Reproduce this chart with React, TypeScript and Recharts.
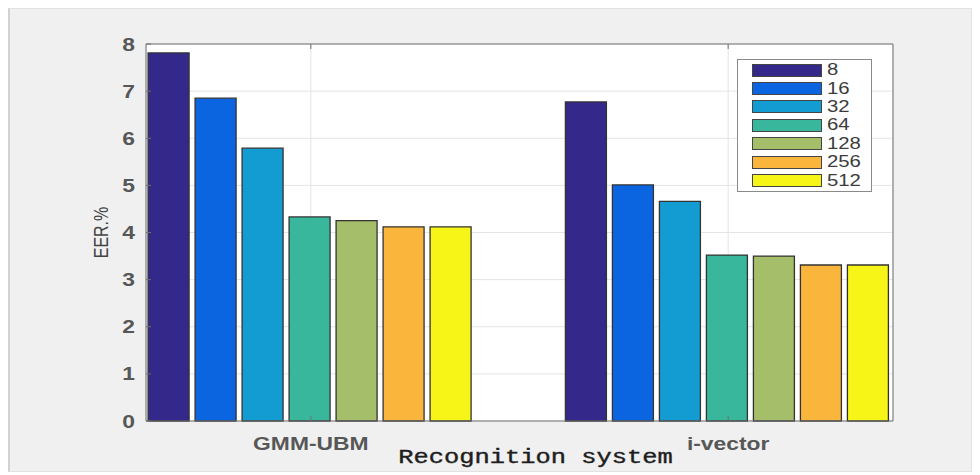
import React from 'react';
import { BarChart, Bar, XAxis, YAxis, CartesianGrid, Legend } from 'recharts';

const systems = ['GMM-UBM', 'i-vector'];
const systemPositions = [1, 2];
const mixtures = ['8', '16', '32', '64', '128', '256', '512'];
const gmmUbmEER = [7.81, 6.85, 5.79, 4.33, 4.25, 4.12, 4.12];
const iVectorEER = [6.77, 5.01, 4.66, 3.52, 3.5, 3.31, 3.31];
const seriesColors = ['#34298a', '#0b65e0', '#139cd2', '#38b79d', '#a5be6a', '#f9b53c', '#f6f517'];
const yTicks = [0, 1, 2, 3, 4, 5, 6, 7, 8];
const xAxisTitle = 'Recognition system';
const yAxisTitle = 'EER.%';

const eerRows = [gmmUbmEER, iVectorEER];
const data = systems.map((name, i) => {
  const row: any = { name, pos: systemPositions[i] };
  mixtures.forEach((m, j) => {
    row['m' + m] = eerRows[i][j];
  });
  return row;
});

const SX = 1.27;
const SANS = '"Liberation Sans", Arial, Helvetica, sans-serif';
const MONO = '"Liberation Mono", "Courier New", monospace';
const TICK_COLOR = '#575757';
const AXIS_COLOR = '#707070';

const XTick = (props: any) => {
  const { x, y, payload } = props;
  const idx = systemPositions.indexOf(payload.value);
  return (
    <g transform={`translate(${x},${y}) scale(${SX},1)`}>
      <text x={0} y={0} textAnchor="middle" dominantBaseline="central" fontFamily={SANS} fontSize={18} fontWeight="bold" fill={TICK_COLOR}>
        {idx >= 0 ? systems[idx] : ''}
      </text>
    </g>
  );
};

const YTick = (props: any) => {
  const { x, y, payload } = props;
  return (
    <g transform={`translate(${x},${y}) scale(${SX},1)`}>
      <text x={0} y={0} textAnchor="end" dominantBaseline="central" fontFamily={SANS} fontSize={18} fontWeight="bold" fill={TICK_COLOR}>
        {payload.value}
      </text>
    </g>
  );
};

const NoTick = () => <g />;

const XLabel = (props: any) => {
  const vb = props.viewBox || { x: 146, y: 421, width: 747, height: 54 };
  const cx = vb.x + vb.width / 2 + 16;
  return (
    <g transform={`translate(${cx},${vb.y + 42}) scale(${SX},1)`}>
      <text x={0} y={0} textAnchor="middle" fontFamily={MONO} fontSize={20} fill="#1e1e1e" stroke="#1e1e1e" strokeWidth={0.4}>
        {xAxisTitle}
      </text>
    </g>
  );
};

const YLabel = (props: any) => {
  const vb = props.viewBox || { x: 0, y: 44, width: 146, height: 377 };
  const cy = vb.y + vb.height / 2;
  return (
    <g transform={`translate(${vb.x + 101},${cy}) scale(${SX},1) rotate(-90)`}>
      <text x={0} y={0} textAnchor="middle" dominantBaseline="central" fontFamily={SANS} fontSize={16} fill="#444">
        {yAxisTitle}
      </text>
    </g>
  );
};

const renderLegend = () => (
  <div
    style={{
      width: 135,
      height: 133,
      border: '1px solid #8a8a8a',
      background: '#fff',
      boxSizing: 'border-box',
      paddingTop: 1,
    }}
  >
    {mixtures.map((m, j) => (
      <div key={m} style={{ height: 18.4, display: 'flex', alignItems: 'center' }}>
        <div
          style={{
            marginLeft: 14,
            width: 70,
            height: 13,
            background: seriesColors[j],
            border: '1px solid #444',
            boxSizing: 'border-box',
          }}
        />
        <span
          style={{
            marginLeft: 5,
            fontFamily: SANS,
            fontSize: 16,
            color: '#3c3c3c',
            display: 'inline-block',
            transform: `scaleX(${SX})`,
            transformOrigin: 'left center',
            lineHeight: '16px',
          }}
        >
          {m}
        </span>
      </div>
    ))}
  </div>
);

export default function App() {
  return (
    <div style={{ position: 'absolute', left: 0, top: 0, width: 980, height: 475, background: '#fff', overflow: 'hidden' }}>
      <div
        style={{
          position: 'absolute',
          left: 8,
          top: 8,
          width: 964,
          height: 464,
          background: '#f0f0f0',
          borderLeft: '2px solid #d2d2d2',
          borderTop: '1px solid #e2e2e2',
          borderRight: '1px solid #e2e2e2',
          borderBottom: '1px solid #e2e2e2',
          boxSizing: 'border-box',
        }}
      />
      <div style={{ position: 'absolute', left: 0, top: 0 }}>
        <BarChart
          width={980}
          height={475}
          data={data}
          margin={{ top: 0, right: 0, bottom: 0, left: 0 }}
          barGap={6}
          barCategoryGap="11%"
        >
          <CartesianGrid xAxisId="b" yAxisId="l" fill="#fff" stroke="#e4e4e4" />
          <XAxis
            xAxisId="b"
            dataKey="pos"
            type="number"
            domain={[0.605, 2.395]}
            allowDataOverflow
            ticks={systemPositions}
            interval={0}
            height={54}
            tickSize={-5}
            tickMargin={27}
            tick={<XTick />}
            stroke={AXIS_COLOR}
            label={<XLabel />}
          />
          <XAxis
            xAxisId="t"
            orientation="top"
            dataKey="pos"
            type="number"
            domain={[0.605, 2.395]}
            allowDataOverflow
            ticks={systemPositions}
            interval={0}
            height={44}
            tickSize={-5}
            tick={<NoTick />}
            stroke={AXIS_COLOR}
          />
          <YAxis
            yAxisId="l"
            domain={[0, 8]}
            ticks={yTicks}
            interval={0}
            width={146}
            tickSize={-5}
            tickMargin={16}
            tick={<YTick />}
            stroke={AXIS_COLOR}
            label={<YLabel />}
          />
          <YAxis
            yAxisId="r"
            orientation="right"
            domain={[0, 8]}
            ticks={yTicks}
            interval={0}
            width={87}
            tickSize={-5}
            tick={<NoTick />}
            stroke={AXIS_COLOR}
          />
          <Legend
            layout="vertical"
            align="center"
            verticalAlign="middle"
            content={renderLegend}
            wrapperStyle={{ left: 737, top: 59, width: 135, height: 133, margin: 0, padding: 0 }}
          />
          {mixtures.map((m, j) => (
            <Bar
              key={m}
              dataKey={'m' + m}
              name={m}
              xAxisId="b"
              yAxisId="l"
              fill={seriesColors[j]}
              stroke="#333"
              strokeWidth={1.3}
              isAnimationActive={false}
            />
          ))}
        </BarChart>
      </div>
    </div>
  );
}
